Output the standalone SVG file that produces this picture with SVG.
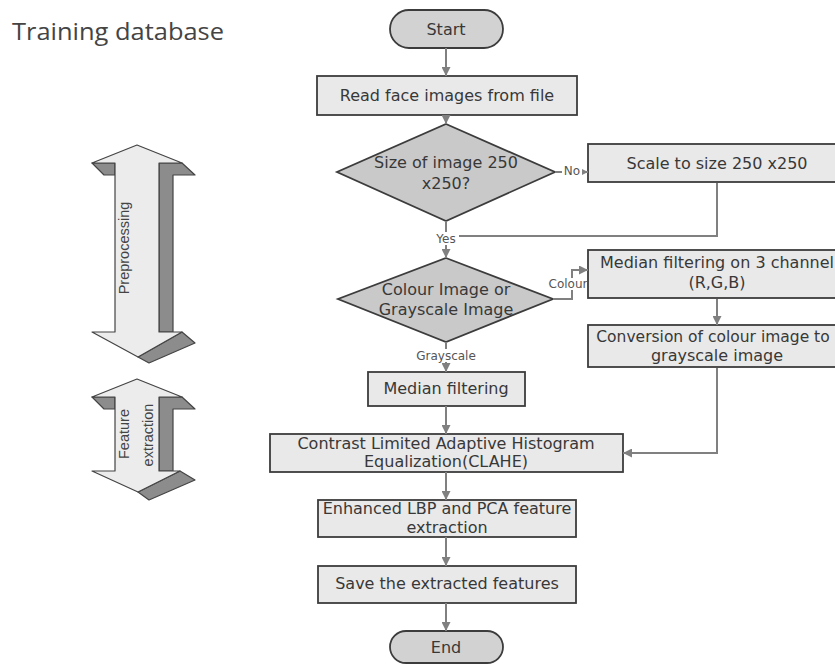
<svg xmlns="http://www.w3.org/2000/svg" width="835" height="664" viewBox="0 0 835 664">
<defs>
<style>
.box{fill:#e9e9e9;stroke:#3c3c3c;stroke-width:1.8}
.dia{fill:#c9c9c9;stroke:#3c3c3c;stroke-width:1.8}
.term{fill:#d2d2d2;stroke:#3c3c3c;stroke-width:1.8}
.t{font-family:"DejaVu Sans",sans-serif;font-size:16px;fill:#383838;text-anchor:middle}
.lbl{font-family:"DejaVu Sans",sans-serif;font-size:12px;fill:#555;text-anchor:middle}
.side{font-family:"Liberation Sans",Arial,sans-serif;font-size:14.5px;fill:#444;text-anchor:middle}
.con{fill:none;stroke:#808080;stroke-width:2}
.front{fill:#ececec;stroke:#444;stroke-width:1.2;stroke-linejoin:round}
.dark{fill:#8c8c8c;stroke:#444;stroke-width:1.2;stroke-linejoin:round}
</style>
<marker id="ah" viewBox="0 0 10 10" refX="10" refY="5" markerWidth="10" markerHeight="9" markerUnits="userSpaceOnUse" orient="auto">
<path d="M0,0 L10,5 L0,10 z" fill="#808080"/>
</marker>
</defs>
<rect width="835" height="664" fill="#ffffff"/>

<g id="title">
<text x="12" y="40" font-family="'Open Sans','Liberation Sans',sans-serif" font-size="24" fill="#444" textLength="212" lengthAdjust="spacingAndGlyphs">Training database</text>
</g>

<g id="preprocessing-arrow">
<polygon class="dark" points="159,163 182,163 195,175 173,175 173,332 159,332"/>
<polygon class="dark" points="182,332 195,343 149,363 138,357"/>
<polygon class="dark" points="92,163 115,163 115,175 104,175"/>
<polygon class="front" points="137,145 182,163 159,163 159,332 182,332 138,357 92,332 115,332 115,163 92,163"/>
<text class="side" transform="translate(129,248) rotate(-90)">Preprocessing</text>
</g>

<g id="feature-arrow">
<polygon class="dark" points="159,397 182,397 195,409 173,409 173,471 159,471"/>
<polygon class="dark" points="180,471 195,480 149,500 138,492"/>
<polygon class="dark" points="92,397 115,397 115,409 104,409"/>
<polygon class="front" points="137,379 182,397 159,397 159,471 180,471 138,492 92,471 115,471 115,397 92,397"/>
<text class="side" transform="translate(129,434) rotate(-90)">Feature</text>
<text class="side" transform="translate(153,435) rotate(-90)">extraction</text>
</g>

<g id="start">
<rect class="term" x="390" y="10" width="113" height="38" rx="19"/>
<text class="t" x="446" y="35">Start</text>
</g>
<g id="read">
<rect class="box" x="317" y="76" width="260" height="39"/>
<text class="t" x="447" y="101">Read face images from file</text>
</g>
<g id="size-check">
<polygon class="dia" points="446,124 555,172 446,221 337,172"/>
<text class="t" x="446" y="168">Size of image 250</text>
<text class="t" x="446" y="189">x250?</text>
</g>
<g id="scale">
<rect class="box" x="588" y="144" width="262" height="38"/>
<text class="t" x="717" y="169">Scale to size 250 x250</text>
</g>
<g id="colour-check">
<polygon class="dia" points="446,258 553,299 446,342 338,299"/>
<text class="t" x="446" y="295">Colour Image or</text>
<text class="t" x="446" y="315">Grayscale Image</text>
</g>
<g id="median-rgb">
<rect class="box" x="588" y="250" width="262" height="48"/>
<text class="t" x="717" y="268">Median filtering on 3 channel</text>
<text class="t" x="717" y="288">(R,G,B)</text>
</g>
<g id="conversion">
<rect class="box" x="588" y="325" width="262" height="42"/>
<text class="t" x="713" y="342" style="font-size:15.5px">Conversion of colour image to</text>
<text class="t" x="717" y="361">grayscale image</text>
</g>
<g id="median">
<rect class="box" x="368" y="372" width="157" height="34"/>
<text class="t" x="446" y="394">Median filtering</text>
</g>
<g id="clahe">
<rect class="box" x="270" y="434" width="353" height="38"/>
<text class="t" x="446" y="449">Contrast Limited Adaptive Histogram</text>
<text class="t" x="446" y="467">Equalization(CLAHE)</text>
</g>
<g id="enhanced">
<rect class="box" x="318" y="500" width="258" height="37"/>
<text class="t" x="447" y="514">Enhanced LBP and PCA feature</text>
<text class="t" x="447" y="533">extraction</text>
</g>
<g id="save">
<rect class="box" x="318" y="566" width="258" height="37"/>
<text class="t" x="447" y="589">Save the extracted features</text>
</g>
<g id="end">
<rect class="term" x="390" y="631" width="113" height="32" rx="16"/>
<text class="t" x="446" y="653">End</text>
</g>

<g id="connectors">
<line class="con" x1="446" y1="48" x2="446" y2="76" marker-end="url(#ah)"/>
<line class="con" x1="446" y1="115" x2="446" y2="124" marker-end="url(#ah)"/>
<line class="con" x1="446" y1="221" x2="446" y2="258" marker-end="url(#ah)"/>
<line class="con" x1="555" y1="172" x2="588" y2="172" marker-end="url(#ah)"/>
<polyline class="con" points="717,183 717,236 446,236"/>
<polyline class="con" points="553,299 572,299 572,270 588,270" marker-end="url(#ah)"/>
<line class="con" x1="717" y1="299" x2="717" y2="325" marker-end="url(#ah)"/>
<polyline class="con" points="717,368 717,453 623,453" marker-end="url(#ah)"/>
<line class="con" x1="446" y1="342" x2="446" y2="372" marker-end="url(#ah)"/>
<line class="con" x1="446" y1="406" x2="446" y2="434" marker-end="url(#ah)"/>
<line class="con" x1="446" y1="472" x2="446" y2="500" marker-end="url(#ah)"/>
<line class="con" x1="446" y1="537" x2="446" y2="566" marker-end="url(#ah)"/>
<line class="con" x1="446" y1="603" x2="446" y2="631" marker-end="url(#ah)"/>
<rect x="433" y="232" width="26" height="13" fill="#fff"/>
<text class="lbl" x="446" y="243">Yes</text>
<rect x="562" y="165" width="20" height="12" fill="#fff"/>
<text class="lbl" x="572" y="175">No</text>
<rect x="549" y="278" width="38" height="12" fill="#fff"/>
<text class="lbl" x="568" y="288">Colour</text>
<rect x="415" y="349" width="62" height="13" fill="#fff"/>
<text class="lbl" x="446" y="360">Grayscale</text>
</g>
</svg>
